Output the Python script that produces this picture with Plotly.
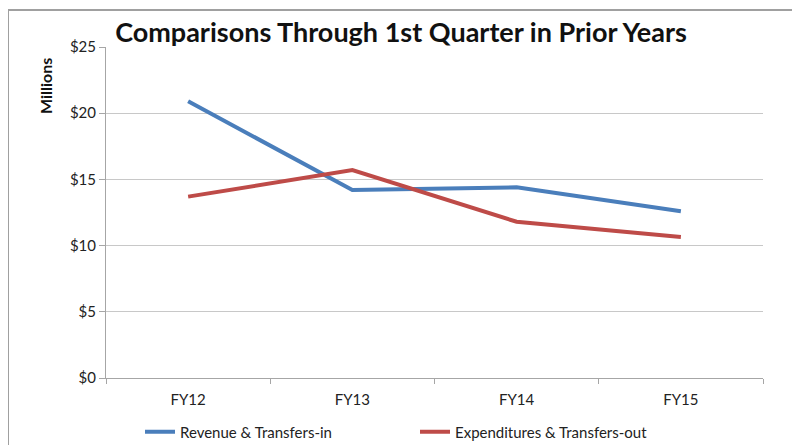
import plotly.graph_objects as go

# data
years = ["FY12", "FY13", "FY14", "FY15"]
revenue = [20.9, 14.2, 14.4, 12.6]
expenditures = [13.7, 15.7, 11.8, 10.65]
y_ticks = [0, 5, 10, 15, 20, 25]
y_tick_text = ["$0", "$5", "$10", "$15", "$20", "$25"]

BLUE = "#4A7EBB"
RED = "#BE4B48"
FONT = "Lato, 'Open Sans', sans-serif"

# the page body adds an 8px margin, so the figure is drawn 8px smaller
# and every reference pixel position is shifted by that offset
OFF = 8
W, H = 800 - OFF, 445 - OFF
L, T = 106 - OFF, 47 - OFF
R = W - (763 - OFF)
B = H - (378 - OFF)
plot_w = W - L - R
plot_h = H - T - B


def px_x(x):
    return (x - OFF - L) / plot_w


def px_y(y):
    return (H - B - (y - OFF)) / plot_h


fig = go.Figure()
fig.add_trace(go.Scatter(
    x=years, y=revenue, mode="lines", name="Revenue & Transfers-in",
    line=dict(color=BLUE, width=4), legend="legend",
))
fig.add_trace(go.Scatter(
    x=years, y=expenditures, mode="lines", name="Expenditures & Transfers-out",
    line=dict(color=RED, width=4), legend="legend2",
))

legend_style = dict(
    orientation="h", yanchor="middle", xanchor="left",
    xref="container", yref="container",
    font=dict(family=FONT, size=15, color="#222"),
    bgcolor="rgba(0,0,0,0)", itemwidth=30,
)

fig.update_layout(
    width=W, height=H,
    margin=dict(l=L, r=R, t=T, b=B, autoexpand=False),
    paper_bgcolor="white", plot_bgcolor="white",
    font=dict(family=FONT, color="#222"),
    title=dict(
        text="<b>Comparisons Through 1st Quarter in Prior Years</b>",
        x=(401 - OFF) / W, xref="container", xanchor="center",
        y=1 - (33 - OFF) / H, yanchor="middle",
        font=dict(family=FONT, size=27, color="#111"),
    ),
    legend=dict(x=(140 - OFF) / W, y=1 - (432 - OFF) / H, **legend_style),
    legend2=dict(x=(415 - OFF) / W, y=1 - (432 - OFF) / H, **legend_style),
    xaxis=dict(
        range=[-0.5, 3.5],
        showline=True, linecolor="#A6A6A6", linewidth=1,
        ticks="outside", ticklen=5, tickcolor="#A6A6A6",
        tickson="boundaries", showgrid=False,
        ticklabelstandoff=8,
        tickfont=dict(family=FONT, size=15, color="#222"),
        fixedrange=True,
    ),
    yaxis=dict(
        range=[0, 25], tickvals=y_ticks, ticktext=y_tick_text,
        showline=True, linecolor="#A6A6A6", linewidth=1,
        ticks="outside", ticklen=6, tickcolor="#A6A6A6",
        showgrid=True, gridcolor="#C8C8C8", gridwidth=1,
        zeroline=False,
        tickfont=dict(family=FONT, size=15, color="#222"),
        fixedrange=True,
    ),
    showlegend=True,
)

fig.add_annotation(
    text="<b>Millions</b>", textangle=-90,
    x=px_x(45), y=px_y(86), xref="paper", yref="paper",
    xanchor="center", yanchor="middle",
    showarrow=False, font=dict(family=FONT, size=16, color="#111"),
)

# outer frame (top and left edges visible in the reference)
fig.add_shape(type="line", xref="paper", yref="paper",
              x0=px_x(8), x1=px_x(800), y0=px_y(10), y1=px_y(10),
              line=dict(color="#A0A0A0", width=2))
fig.add_shape(type="line", xref="paper", yref="paper",
              x0=px_x(8), x1=px_x(8), y0=px_y(10), y1=px_y(445),
              line=dict(color="#A0A0A0", width=2))

fig.write_html("out.html")
